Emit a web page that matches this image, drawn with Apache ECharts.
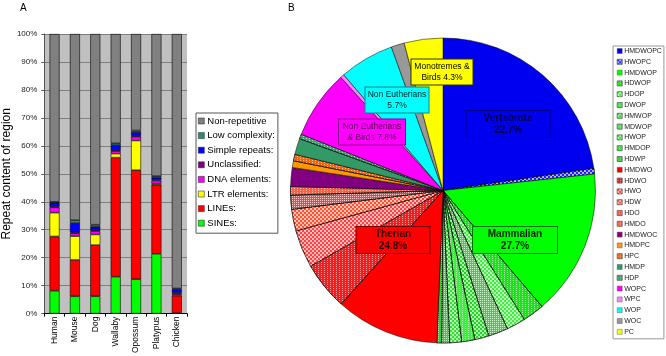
<!DOCTYPE html>
<html>
<head>
<meta charset="utf-8">
<script src="https://cdn.jsdelivr.net/npm/echarts@6/dist/echarts.min.js"></script>
<style>
html, body { margin: 0; padding: 0; background: #fff; }
#chart { width: 666px; height: 356px; }
</style>
</head>
<body>
<div id="chart"></div>
<script>
// panel A - repeat content (% of region), stacked bottom-up
var species = ['Human', 'Mouse', 'Dog', 'Wallaby', 'Opossum', 'Platypus', 'Chicken'];
var sines = [8.2, 6.2, 6.2, 13.2, 12.3, 21.4, 0.2];
var lines = [19.4, 13.0, 18.3, 42.6, 39.0, 24.7, 6.2];
var ltrElements = [8.5, 8.5, 3.8, 1.4, 10.6, 0.4, 0.4];
var dnaElements = [1.9, 1.0, 1.2, 0.9, 1.4, 1.1, 0.4];
var unclassified = [0.3, 0.3, 0.4, 0.4, 0.3, 0.4, 0.3];
var simpleRepeats = [1.4, 3.4, 1.2, 1.7, 1.3, 0.7, 1.2];
var lowComplexity = [0.3, 1.0, 0.7, 0.7, 0.6, 0.5, 0.3];
var nonRepetitive = [60.0, 66.6, 68.2, 39.1, 34.5, 50.8, 91.0];

// panel B - share of each species group (%)
var groupNames = ['HMDWOPC', 'HWOPC', 'HMDWOP', 'HDWOP', 'HDOP', 'DWOP', 'HMWOP', 'MDWOP', 'HWOP',
  'HMDOP', 'HDWP', 'HMDWO', 'HDWO', 'HWO', 'HDW', 'HDO', 'HMDO', 'HMDWOC', 'HMDPC', 'HPC',
  'HMDP', 'HDP', 'WOPC', 'WPC', 'WOP', 'WOC', 'PC'];
var groupShares = [22.7, 0.6, 15.5, 2.3, 2.0, 2.1, 1.5, 1.4, 1.25,
  0.85, 0.5, 11.0, 5.1, 4.0, 2.3, 1.5, 0.9, 2.0, 0.7, 0.7,
  1.7, 0.5, 7.3, 0.4, 5.8, 1.4, 4.1];
var noteTexts = ['Vertebrate\n22.7%', 'Mammalian\n27.7%', 'Therian\n24.8%',
  'Non Eutherians\n& Birds 7.8%', 'Non Eutherians\n5.7%', 'Monotremes &\nBirds 4.3%'];

var FONT = '"Liberation Sans", Arial, sans-serif';

// fill patterns used by the hatched slices
var checker = { symbol: 'rect', symbolSize: 1, dashArrayX: [[2, 2], [0, 2, 2, 0]], dashArrayY: [2, 0], color: 'rgba(255,255,255,0.65)' };
var dots = { symbol: 'rect', symbolSize: 1, dashArrayX: [1, 1], dashArrayY: [1, 1], color: 'rgba(255,255,255,0.7)' };
var fine = { symbol: 'rect', symbolSize: 1, dashArrayX: [1, 2], dashArrayY: [1, 1], color: 'rgba(255,255,255,0.55)' };

var sliceStyles = [
  { color: '#0000f0' }, { color: '#2020ff', decal: checker },
  { color: '#00ff00' }, { color: '#20e020', decal: fine }, { color: '#40f040', decal: checker },
  { color: '#30e030', decal: dots }, { color: '#20d820', decal: checker }, { color: '#40ee40', decal: fine },
  { color: '#30e030', decal: checker }, { color: '#20e020', decal: dots }, { color: '#30d030', decal: fine },
  { color: '#ff0000' }, { color: '#f02020', decal: fine }, { color: '#ff4040', decal: checker },
  { color: '#ff5030', decal: checker }, { color: '#ff4040', decal: dots }, { color: '#ff6040', decal: fine },
  { color: '#800080' }, { color: '#ff9900' }, { color: '#ff6600', decal: fine },
  { color: '#339966' }, { color: '#40a070', decal: fine },
  { color: '#ff00ff' }, { color: '#ff80ff' }, { color: '#00ffff' }, { color: '#999999' }, { color: '#ffff00' }
];

var noteBoxes = [
  { x: 508, y: 124, w: 83, bg: '#0000f0', border: '#000080', fg: '#000040', size: 10, bold: true, lh: 11.5 },
  { x: 515, y: 240, w: 84, bg: '#00ff00', border: '#007000', fg: '#002000', size: 10, bold: true, lh: 11.5 },
  { x: 393, y: 240, w: 73, bg: '#ff0000', border: '#700000', fg: '#300000', size: 10, bold: true, lh: 11.5 },
  { x: 372, y: 132, w: 66, bg: '#ff00ff', border: '#900090', fg: '#500050', size: 8.5, bold: false, lh: 11 },
  { x: 397, y: 100, w: 63, bg: '#00ffff', border: '#008888', fg: '#002020', size: 8.5, bold: false, lh: 11 },
  { x: 442, y: 72, w: 61, bg: '#ffff00', border: '#333300', fg: '#000000', size: 8.5, bold: false, lh: 11 }
];

var chart = echarts.init(document.getElementById('chart'));

function barSeries(name, data, color) {
  return {
    name: name, type: 'bar', stack: 'repeat', data: data, barWidth: 10,
    itemStyle: { color: color, borderColor: '#000', borderWidth: 0.6 },
    silent: true
  };
}

var pieData = groupNames.map(function (n, i) {
  var st = sliceStyles[i];
  return {
    name: n, value: groupShares[i],
    itemStyle: { color: st.color, decal: st.decal || null, borderColor: '#000', borderWidth: 0.5 }
  };
});

var notes = noteTexts.map(function (t, i) {
  var b = noteBoxes[i];
  return {
    type: 'text', x: b.x, y: b.y, silent: true, z: 100,
    style: {
      text: t, x: 0, y: 0, align: 'center', verticalAlign: 'middle',
      font: (b.bold ? 'bold ' : '') + b.size + 'px ' + FONT, fill: b.fg,
      lineHeight: b.lh, width: b.w - 2, padding: [1.5, 1, 1.5, 1],
      backgroundColor: b.bg, borderColor: b.border, borderWidth: 1
    }
  };
});

var option = {
  animation: false,
  textStyle: { fontFamily: FONT },
  title: [
    { text: 'A', left: 20, top: 3, padding: 0, textStyle: { fontSize: 10, fontWeight: 'normal', color: '#000', fontFamily: FONT } },
    { text: 'B', left: 288, top: 3, padding: 0, textStyle: { fontSize: 10, fontWeight: 'normal', color: '#000', fontFamily: FONT } }
  ],
  grid: {
    left: 40, top: 34, width: 147, height: 288,
    show: true, backgroundColor: '#c0c0c0', borderWidth: 0
  },
  xAxis: {
    type: 'category', data: species,
    axisLine: { lineStyle: { color: '#000', width: 1 } },
    axisTick: { show: true, length: 3, lineStyle: { color: '#000' } },
    axisLabel: { rotate: 90, fontSize: 8.5, color: '#000', margin: 3, fontFamily: FONT }
  },
  yAxis: {
    type: 'value', min: 0, max: 100, interval: 10,
    name: 'Repeat content of region', nameLocation: 'middle', nameGap: 24,
    nameTextStyle: { fontSize: 12, color: '#000', fontFamily: FONT },
    axisLine: { show: true, lineStyle: { color: '#555' } },
    axisTick: { show: true, length: 3, lineStyle: { color: '#555' } },
    axisLabel: { formatter: '{value}%', fontSize: 8, color: '#222', margin: 7, fontFamily: FONT },
    splitLine: { lineStyle: { color: '#808080', width: 1 } }
  },
  legend: [
    {
      data: ['Non-repetitive', 'Low complexity:', 'Simple repeats:', 'Unclassified:', 'DNA elements:', 'LTR elements:', 'LINEs:', 'SINEs:'],
      orient: 'vertical', left: 196, top: 113, icon: 'rect',
      itemWidth: 6, itemHeight: 6, itemGap: 2.6, selectedMode: false,
      padding: [2, 3, 4, 2], borderColor: '#555', borderWidth: 1,
      itemStyle: { borderColor: '#333', borderWidth: 0.6 },
      textStyle: { fontSize: 9.5, color: '#000', lineHeight: 12, fontFamily: FONT, padding: [0, 0, 0, -2] }
    },
    {
      data: groupNames,
      orient: 'vertical', left: 613, top: 46, icon: 'rect',
      itemWidth: 5, itemHeight: 5, itemGap: 2.8, selectedMode: false,
      padding: [1, 2, 3, 4], borderColor: '#999', borderWidth: 1,
      itemStyle: { borderColor: '#444', borderWidth: 0.4 },
      textStyle: { fontSize: 7, color: '#222', lineHeight: 8, fontFamily: FONT, padding: [0, 0, 0, -3] }
    }
  ],
  series: [
    barSeries('SINEs:', sines, '#00ff00'),
    barSeries('LINEs:', lines, '#ff0000'),
    barSeries('LTR elements:', ltrElements, '#ffff00'),
    barSeries('DNA elements:', dnaElements, '#ff00ff'),
    barSeries('Unclassified:', unclassified, '#800080'),
    barSeries('Simple repeats:', simpleRepeats, '#0000ff'),
    barSeries('Low complexity:', lowComplexity, '#2e8b7a'),
    barSeries('Non-repetitive', nonRepetitive, '#808080'),
    {
      type: 'pie', center: [443, 190.5], radius: 152.5, startAngle: 90, clockwise: true,
      data: pieData, label: { show: false }, labelLine: { show: false },
      silent: true, emphasis: { disabled: true }, minAngle: 0
    }
  ],
  graphic: notes
};

chart.setOption(option);
</script>
</body>
</html>
